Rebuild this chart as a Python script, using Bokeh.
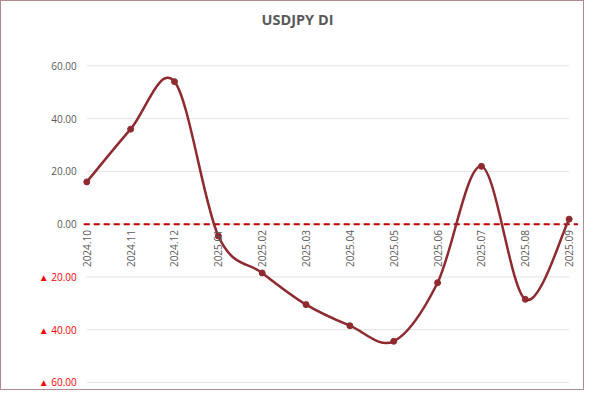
import numpy as np
from bokeh.plotting import figure
from bokeh.models import Range1d
from bokeh.core.properties import value
from bokeh.embed import file_html
from bokeh.resources import INLINE

# ---- data ----
title_text = "USDJPY DI"
months = ["2024.10", "2024.11", "2024.12", "2025.01", "2025.02", "2025.03",
          "2025.04", "2025.05", "2025.06", "2025.07", "2025.08", "2025.09"]
di_values = [16.0, 36.0, 54.0, -4.5, -18.5, -30.5, -38.5, -44.4, -22.2, 21.9, -28.5, 1.9]
y_ticks = [-60, -40, -20, 0, 20, 40, 60]
y_tick_labels = ["▲ 60.00", "▲ 40.00", "▲ 20.00", "0.00", "20.00", "40.00", "60.00"]

LINE = "#8e2a30"
FONT = "Open Sans"
GRAY = "#595959"

n = len(months)
X0, X1 = -1.945, 11.373
Y0, Y1 = -63.43, 84.38
p = figure(width=584, height=390, output_backend="svg", toolbar_location=None,
           x_range=Range1d(X0, X1), y_range=Range1d(Y0, Y1),
           min_border=0)
p.styles = {"border": "1px solid #b58a8f", "box-sizing": "border-box"}
p.outline_line_color = None
p.background_fill_color = "white"
p.border_fill_color = "white"
p.axis.visible = False
p.grid.visible = False

# title (centered at top)
p.text(x=[(X0 + X1) / 2], y=[Y1], text=[title_text], x_offset=4, y_offset=18,
       text_align="center", text_baseline="middle", text_color=GRAY,
       text_font=value(FONT), text_font_size="14.5px", text_font_style="bold")

# horizontal gridlines over the category span
p.segment(x0=[0] * len(y_ticks), x1=[n - 1] * len(y_ticks), y0=y_ticks, y1=y_ticks,
          line_color="#e3e3e3", line_width=1)

# zero line (dashed red)
p.segment(x0=[-0.07], x1=[n - 1 + 0.2], y0=[0], y1=[0],
          line_color="#c00000", line_width=2, line_dash="6 4")

# smooth line (Catmull-Rom style bezier like Excel smoothing)
x = np.arange(n, dtype=float)
y = np.array(di_values, dtype=float)
xp = np.concatenate([[x[0]], x, [x[-1]]])
yp = np.concatenate([[y[0]], y, [y[-1]]])
t = 1.0 / 6.0
x0, y0 = x[:-1], y[:-1]
x1, y1 = x[1:], y[1:]
cx0 = x0 + (xp[2:-1] - xp[0:-3]) * t
cy0 = y0 + (yp[2:-1] - yp[0:-3]) * t
cx1 = x1 - (xp[3:] - xp[1:-2]) * t
cy1 = y1 - (yp[3:] - yp[1:-2]) * t
p.bezier(x0=x0, y0=y0, x1=x1, y1=y1, cx0=cx0, cy0=cy0, cx1=cx1, cy1=cy1,
         line_color=LINE, line_width=2.5)
p.scatter(x, y, size=6, color=LINE)

# y tick labels
p.text(x=[0] * len(y_ticks), y=y_ticks, text=y_tick_labels, x_offset=-10,
       text_align="right", text_baseline="middle",
       text_color=["#ff0000" if v < 0 else GRAY for v in y_ticks],
       text_font=value(FONT), text_font_size="10px")

# category labels on the zero line
p.text(x=x, y=[0] * n, text=months, y_offset=6,
       angle=np.pi / 2, text_align="right", text_baseline="middle",
       text_color=GRAY, text_font=value(FONT), text_font_size="10px")

open("out.html", "w").write(file_html(p, INLINE))
